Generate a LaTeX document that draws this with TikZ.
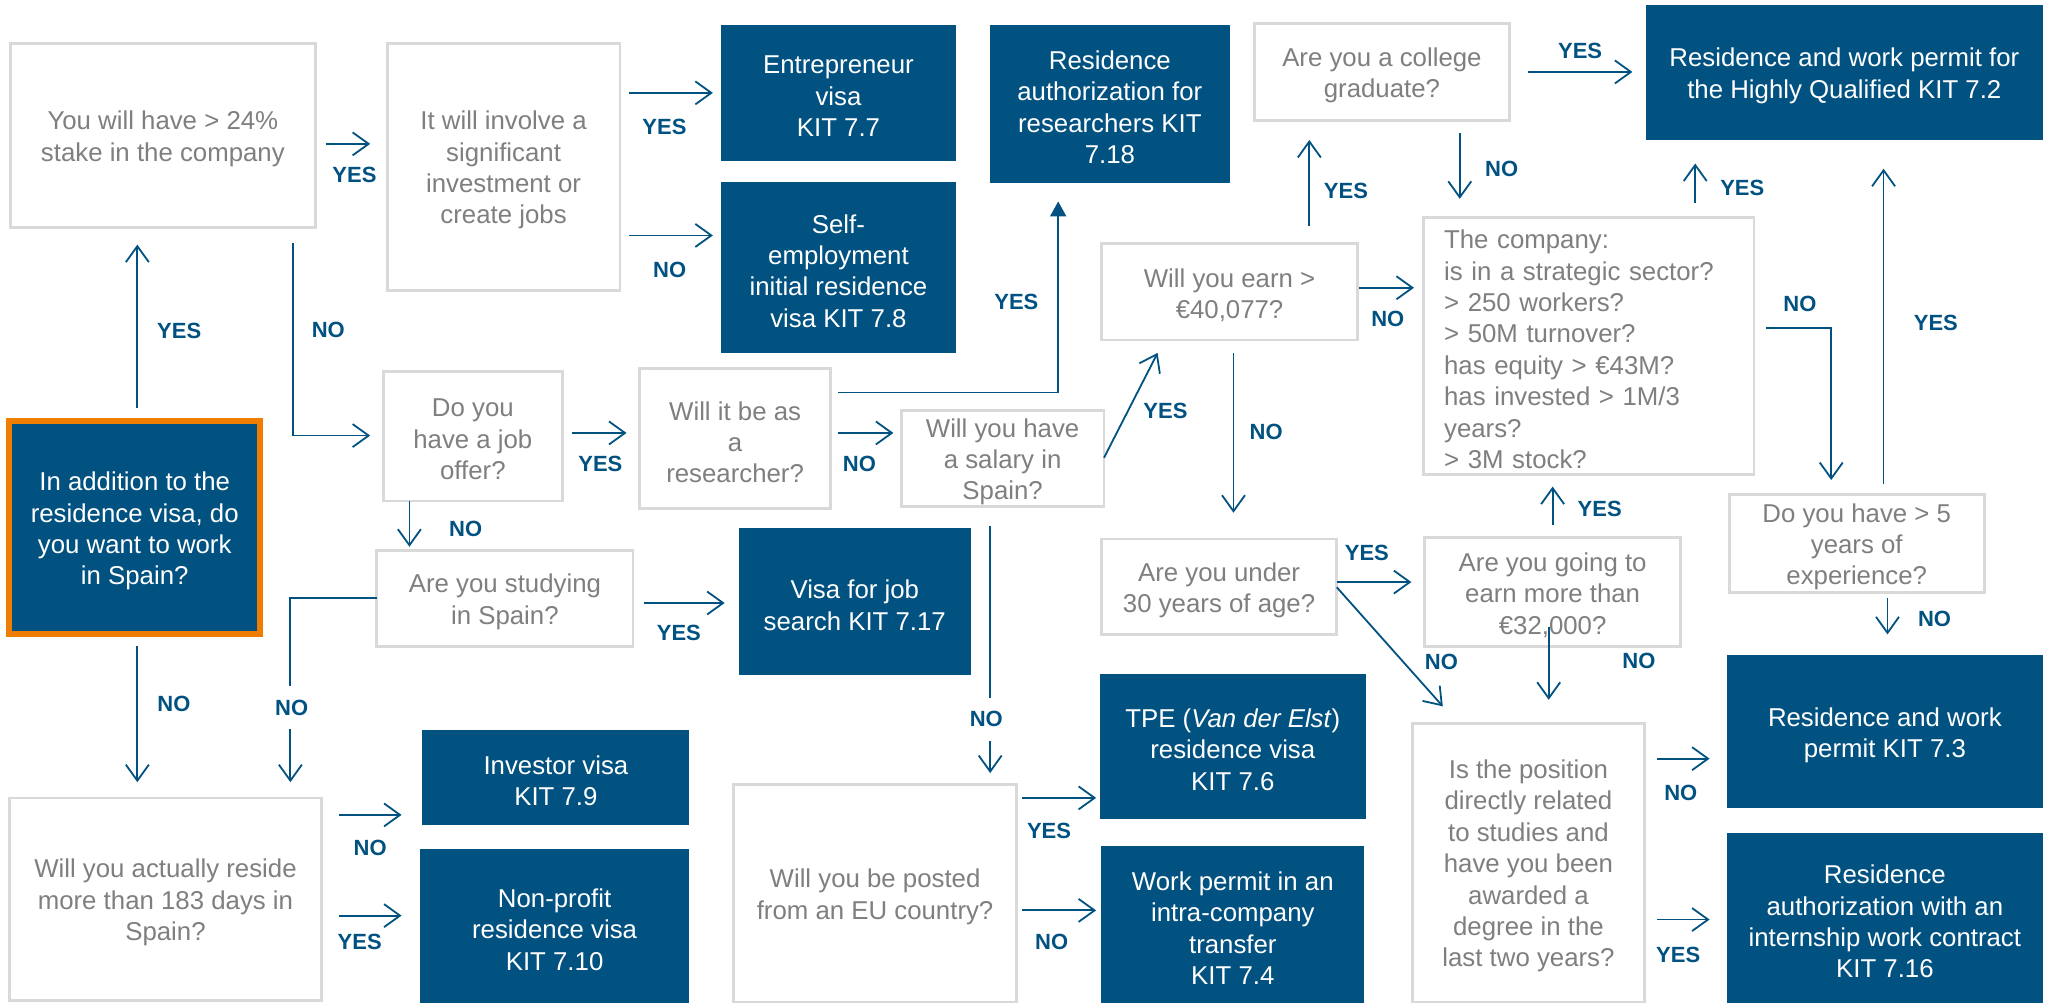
\documentclass[tikz,border=0pt]{standalone}
\usepackage{fontspec}
\setmainfont{Liberation Sans}
\usetikzlibrary{arrows.meta}
\definecolor{kblue}{RGB}{2,82,129}
\definecolor{kgray}{RGB}{127,127,127}
\definecolor{kline}{RGB}{217,217,217}
\definecolor{korange}{RGB}{239,125,0}
\newcommand\bx[7]{%
  \pgfmathsetmacro\bxw{(#5-#3)*0.65402}%
  \pgfmathsetmacro\bxh{(#6-#4)*0.65402}%
  \node[#1, minimum width=\bxw pt, minimum height=\bxh pt] (#2) at ({(#3+#5)/2},{(#4+#6)/2}) {};
  \node[#1, draw=none, fill=none, minimum width=0pt, minimum height=0pt] (#2-t) at ([yshift=-1.7pt]#2.center) {#7};}
\tikzset{
  qbox/.style={draw=kline, line width=1.4pt, fill=white, text=kgray, align=center, inner sep=0pt, outer sep=0pt, font=\fontsize{12.9}{15.7}\selectfont},
  kbox/.style={fill=kblue, text=white, align=center, inner sep=0pt, outer sep=0pt, font=\fontsize{12.9}{15.7}\selectfont},
  startbox/.style={kbox, draw=korange, line width=3pt},
  arr/.style={draw=kblue, line width=0.9pt, -{Straight Barb[length=8pt,width=11.5pt]}},
  tarr/.style={draw=kblue, line width=0.9pt, -{Triangle[length=7.5pt,width=8pt]}},
  g/.style 2 args={shorten <={#1*0.65402pt}, shorten >={#2*0.65402pt}},
  lab/.style={text=kblue, font=\fontsize{11}{13}\selectfont\bfseries, inner sep=1pt},
  wlab/.style={lab, fill=white, inner xsep=2pt, inner ysep=7pt},
}
\begin{document}
\begin{tikzpicture}[x=0.65402pt,y=-0.65402pt]
\useasboundingbox (0,0) rectangle (1568,767);
\fill[white] (0,0) rectangle (1568,767);
% boxes
\bx{qbox}{qstake}{8}{33}{241}{174}{You will have > 24\%\\stake in the company}
\bx{qbox}{qinvest}{296}{33}{474}{222}{It will involve a\\significant\\investment or\\create jobs}
\bx{kbox}{kentre}{551}{19}{731}{123}{Entrepreneur\\visa\\KIT 7.7}
\bx{kbox}{kself}{551}{139}{731}{270}{Self-\\employment\\initial residence\\visa KIT 7.8}
\bx{kbox}{kresearch}{757}{19}{940}{140}{Residence\\authorization for\\researchers KIT\\7.18}
\bx{qbox}{qcollege}{959}{18}{1154}{92}{Are you a college\\graduate?}
\bx{kbox}{khq}{1258}{4}{1562}{107}{Residence and work permit for\\the Highly Qualified KIT 7.2}
\bx{qbox}{qearn}{842}{186}{1038}{260}{Will you earn >\\€40,077?}
\bx{qbox,align=left,text width=144.5pt}{qcomp}{1088}{166}{1341}{363}{The company:\\is in a strategic sector?\\> 250 workers?\\> 50M turnover?\\has equity > €43M?\\has invested > 1M/3\\years?\\> 3M stock?}
\bx{qbox}{qunder}{842}{412}{1022}{485}{Are you under\\30 years of age?}
\bx{qbox}{qmore}{1089}{411}{1285}{494}{Are you going to\\earn more than\\€32,000?}
\bx{qbox}{qexp}{1322}{378}{1517}{453}{Do you have > 5\\years of\\experience?}
\bx{qbox}{qjob}{293}{284}{430}{383}{Do you\\have a job\\offer?}
\bx{qbox}{qresq}{489}{282}{635}{389}{Will it be as\\a\\researcher?}
\bx{qbox}{qsalary}{689}{314}{844}{387}{Will you have\\a salary in\\Spain?}
\bx{qbox}{qstudy}{288}{421}{484}{494}{Are you studying\\in Spain?}
\bx{kbox}{kjob}{565}{404}{742}{516}{Visa for job\\search KIT 7.17}
\bx{startbox}{kmain}{7}{322}{199}{485}{In addition to the\\residence visa, do\\you want to work\\in Spain?}
\bx{qbox}{qreside}{7}{610}{246}{765}{Will you actually reside\\more than 183 days in\\Spain?}
\bx{kbox}{kinv}{323}{558}{527}{631}{Investor visa\\KIT 7.9}
\bx{kbox}{knon}{321}{649}{527}{767}{Non-profit\\residence visa\\KIT 7.10}
\bx{qbox}{qposted}{561}{600}{777}{766}{Will you be posted\\from an EU country?}
\bx{kbox}{ktpe}{841}{515}{1044}{626}{TPE (\textit{Van der Elst})\\residence visa\\KIT 7.6}
\bx{kbox}{kintra}{842}{647}{1043}{767}{Work permit in an\\intra-company\\transfer\\KIT 7.4}
\bx{qbox}{qdeg}{1080}{553}{1257}{766}{Is the position\\directly related\\to studies and\\have you been\\awarded a\\degree in the\\last two years?}
\bx{kbox}{k73}{1320}{501}{1562}{618}{Residence and work\\permit KIT 7.3}
\bx{kbox}{k716}{1320}{637}{1562}{767}{Residence\\authorization with an\\internship work contract\\KIT 7.16}
% connectors
\draw[arr,g={10}{13}] (kmain.north -| 105,0) -- (qstake.south -| 105,0);
\draw[arr,g={12}{10}] (qstake.south -| 224,0) |- (qjob.west |- 0,333);
\draw[arr,g={8}{13}] (qstake.east |- 0,110) -- (qinvest.west |- 0,110);
\draw[arr,g={7}{6}] (qinvest.east |- 0,71) -- (kentre.west |- 0,71);
\draw[arr,g={7}{6}] (qinvest.east |- 0,180) -- (kself.west |- 0,180);
\draw[arr,g={7}{10}] (qjob.east |- 0,331) -- (qresq.west |- 0,331);
\draw[arr,g={0}{3}] (qjob.south -| 313,0) -- (qstudy.north -| 313,0);
\draw[arr,g={6}{6}] (qresq.east |- 0,331) -- (qsalary.west |- 0,331);
\draw[tarr,g={6}{14}] (qresq.east |- 0,300) -| (kresearch.south -| 809,0);
\draw[arr,g={0}{11}] (qsalary.east |- 0,350) -- (qearn.south -| 890,0);
\draw[arr,g={10}{20}] (qearn.south -| 943,0) -- (qunder.north -| 943,0);
\draw[arr,g={1}{7}] (qearn.east |- 0,220) -- (qcomp.west |- 0,220);
\draw[arr,g={13}{15}] (qearn.north -| 1001,0) -- (qcollege.south -| 1001,0);
\draw[arr,g={14}{10}] (qcollege.east |- 0,55) -- (khq.west |- 0,55);
\draw[arr,g={10}{14}] (qcollege.south -| 1116,0) -- (qcomp.north -| 1116,0);
\draw[arr,g={11}{18}] (qcomp.north -| 1296,0) -- (khq.south -| 1296,0);
\draw[arr,g={9}{11}] (qcomp.east |- 0,251) -| (qexp.north -| 1400,0);
\draw[arr,g={8}{22}] (qexp.north -| 1440,0) -- (khq.south -| 1440,0);
\draw[arr,g={4}{16}] (qexp.south -| 1443,0) -- (k73.north -| 1443,0);
\draw[arr,g={0}{10}] (qunder.east |- 0,445) -- (qmore.west |- 0,445);
\draw[arr,g={0}{17.4}] (qunder.east |- 0,449) -- (qdeg.north -| 1114.6,0);
\draw[arr,g={10}{9}] (qmore.north -| 1187,0) -- (qcomp.south -| 1187,0);
\draw[arr,g={-15}{18}] (qmore.south -| 1184,0) -- (qdeg.north -| 1184,0);
\draw[arr,g={10}{13}] (qdeg.east |- 0,580) -- (k73.west |- 0,580);
\draw[arr,g={10}{13}] (qdeg.east |- 0,703) -- (k716.west |- 0,703);
\draw[arr,g={9}{12}] (kmain.south -| 105,0) -- (qreside.north -| 105,0);
\draw[arr,g={0}{12}] (qstudy.west |- 0,457) -| (qreside.north -| 222,0);
\draw[arr,g={8}{11}] (qstudy.east |- 0,461) -- (kjob.west |- 0,461);
\draw[arr,g={13}{16}] (qreside.east |- 0,623) -- (kinv.west |- 0,623);
\draw[arr,g={13}{14}] (qreside.east |- 0,700) -- (knon.west |- 0,700);
\draw[arr,g={15}{9}] (qsalary.south -| 757,0) -- (qposted.north -| 757,0);
\draw[arr,g={4}{3}] (qposted.east |- 0,610) -- (ktpe.west |- 0,610);
\draw[arr,g={4}{4}] (qposted.east |- 0,696) -- (kintra.west |- 0,696);
% labels
\node[lab] (l1) at (137,253) {YES};
\node[lab] (l2) at (251,252) {NO};
\node[lab] (l3) at (271,134) {YES};
\node[lab] (l4) at (508,97) {YES};
\node[lab] (l5) at (512,206) {NO};
\node[lab] (l6) at (459,355) {YES};
\node[lab] (l7) at (356,404) {NO};
\node[lab] (l8) at (657,355) {NO};
\node[lab] (l9) at (777,231) {YES};
\node[lab] (l10) at (891,314) {YES};
\node[lab] (l11) at (968,330) {NO};
\node[lab] (l12) at (1061,244) {NO};
\node[lab] (l13) at (1029,146) {YES};
\node[lab] (l14) at (1208,39) {YES};
\node[lab] (l15) at (1148,129) {NO};
\node[lab] (l16) at (1332,144) {YES};
\node[lab] (l17) at (1376,232) {NO};
\node[lab] (l18) at (1480,247) {YES};
\node[lab] (l19) at (1479,473) {NO};
\node[lab] (l20) at (1045,423) {YES};
\node[lab] (l21) at (1102,506) {NO};
\node[lab] (l22) at (1223,389) {YES};
\node[lab] (l23) at (1253,505) {NO};
\node[lab] (l24) at (1285,606) {NO};
\node[lab] (l25) at (1283,730) {YES};
\node[lab] (l26) at (133,538) {NO};
\node[wlab] (l27) at (223,541) {NO};
\node[lab] (l28) at (519,484) {YES};
\node[lab] (l29) at (283,648) {NO};
\node[lab] (l30) at (275,720) {YES};
\node[wlab] (l31) at (754,550) {NO};
\node[lab] (l32) at (802,635) {YES};
\node[lab] (l33) at (804,720) {NO};
\end{tikzpicture}
\end{document}
